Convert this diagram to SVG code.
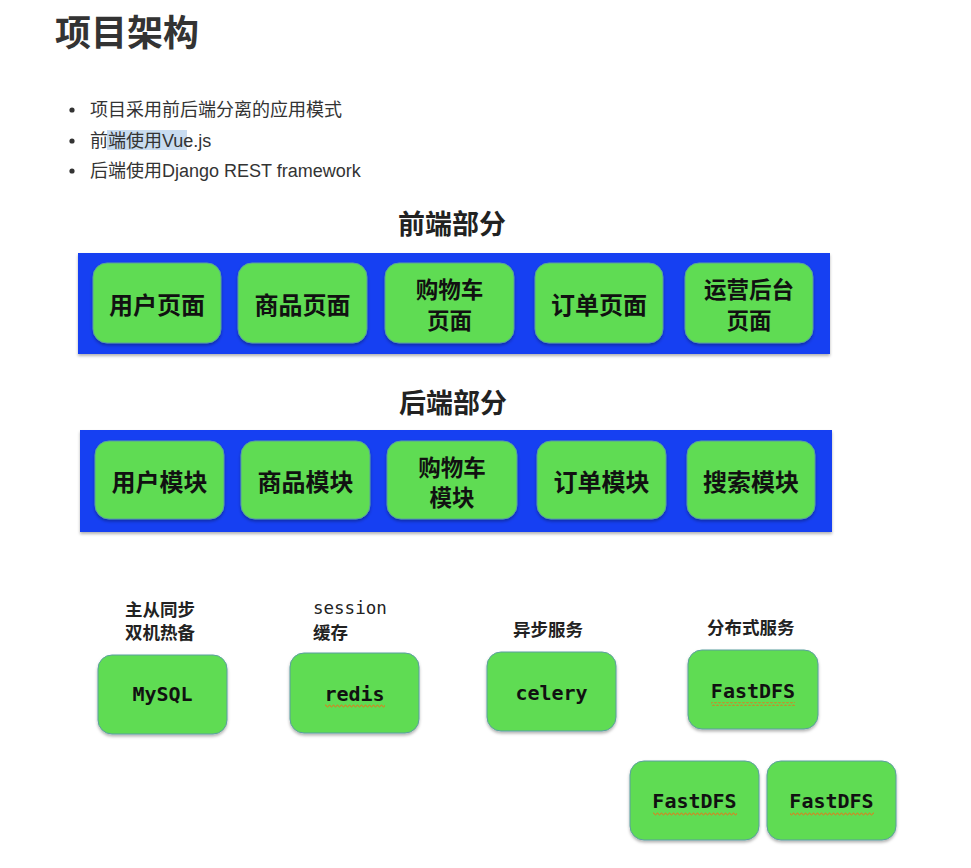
<svg xmlns="http://www.w3.org/2000/svg" width="971" height="868" viewBox="0 0 971 868">
<defs>
<filter id="sh" x="-10%" y="-10%" width="120%" height="130%">
<feDropShadow dx="0" dy="2" stdDeviation="1.5" flood-color="#000" flood-opacity="0.3"/>
</filter>
<pattern id="wave" width="4" height="4" patternUnits="userSpaceOnUse">
<path d="M0 3 L1 1 L2 1 L3 3 L4 3" fill="none" stroke="#e07a1c" stroke-width="0.9"/>
</pattern>
</defs>
<style>
.title{font-family:"Noto Sans CJK SC","Noto Sans",sans-serif;font-weight:bold;font-size:36px;fill:#333}
.bul{font-family:"Liberation Sans","Noto Sans CJK SC",sans-serif;font-size:18px;fill:#333}
.head{font-family:"Noto Sans CJK SC",sans-serif;font-weight:bold;font-size:27px;fill:#222;text-anchor:middle}
.band{fill:#1840f2;filter:url(#sh)}
.box{fill:#5fdc52;stroke:#5a9ea0;stroke-width:1;filter:url(#sh)}
.bt{font-family:"Noto Sans CJK SC",sans-serif;font-weight:bold;font-size:24px;fill:#111;text-anchor:middle}
.bt2{font-family:"Noto Sans CJK SC",sans-serif;font-weight:bold;font-size:22.5px;fill:#111;text-anchor:middle}
.lab{font-family:"Noto Sans CJK SC",sans-serif;font-weight:bold;font-size:17.5px;fill:#222}
.mono{font-family:"DejaVu Sans Mono","Noto Sans CJK SC",monospace;font-weight:bold;font-size:20px;fill:#111;text-anchor:middle}
.monol{font-family:"DejaVu Sans Mono",monospace;font-size:17.5px;fill:#222}
</style>
<rect width="971" height="868" fill="#fff"/>
<text class="title" x="55" y="46">项目架构</text>
<g id="bullets">
<circle cx="72" cy="110" r="2.6" fill="#333"/>
<circle cx="72" cy="141" r="2.6" fill="#333"/>
<circle cx="72" cy="171" r="2.6" fill="#333"/>
<rect x="107" y="130" width="80" height="20" fill="#c9dcf0"/>
<text class="bul" x="90" y="116">项目采用前后端分离的应用模式</text>
<text class="bul" x="90" y="147">前端使用Vue.js</text>
<text class="bul" x="90" y="177">后端使用Django REST framework</text>
</g>
<text class="head" x="452" y="234">前端部分</text>
<rect class="band" x="78" y="253" width="752" height="101"/>
<g id="fe-user"><rect class="box" x="93" y="263" width="128" height="80" rx="14"/><text class="bt" x="157" y="314">用户页面</text></g>
<g id="fe-goods"><rect class="box" x="238" y="263" width="129" height="80" rx="14"/><text class="bt" x="302.5" y="314">商品页面</text></g>
<g id="fe-cart"><rect class="box" x="385" y="263" width="129" height="80" rx="14"/><text class="bt2" x="449.5" y="298">购物车</text><text class="bt2" x="449.5" y="329">页面</text></g>
<g id="fe-order"><rect class="box" x="535" y="263" width="128" height="80" rx="14"/><text class="bt" x="599" y="314">订单页面</text></g>
<g id="fe-admin"><rect class="box" x="685" y="263" width="128" height="80" rx="14"/><text class="bt2" x="749" y="298">运营后台</text><text class="bt2" x="749" y="329">页面</text></g>
<text class="head" x="453" y="413">后端部分</text>
<rect class="band" x="80" y="430" width="752" height="102"/>
<g id="be-user"><rect class="box" x="95" y="441" width="129" height="78" rx="14"/><text class="bt" x="159.5" y="491">用户模块</text></g>
<g id="be-goods"><rect class="box" x="241" y="441" width="129" height="78" rx="14"/><text class="bt" x="305.5" y="491">商品模块</text></g>
<g id="be-cart"><rect class="box" x="387" y="441" width="130" height="78" rx="14"/><text class="bt2" x="452" y="476">购物车</text><text class="bt2" x="452" y="506">模块</text></g>
<g id="be-order"><rect class="box" x="537" y="441" width="129" height="78" rx="14"/><text class="bt" x="601.5" y="491">订单模块</text></g>
<g id="be-search"><rect class="box" x="687" y="441" width="128" height="78" rx="14"/><text class="bt" x="751" y="491">搜索模块</text></g>
<g id="mysql">
<text class="lab" x="125" y="616">主从同步</text><text class="lab" x="125" y="639">双机热备</text>
<rect class="box" x="98" y="655" width="129" height="79" rx="14"/>
<text class="mono" x="162.5" y="701">MySQL</text>
</g>
<g id="redis">
<text class="monol" x="313" y="614">session</text><text class="lab" x="313" y="639">缓存</text>
<rect class="box" x="290" y="653" width="129" height="80" rx="14"/>
<text class="mono" x="354.5" y="701">redis</text>
<rect x="325" y="704" width="60" height="4" fill="url(#wave)"/>
</g>
<g id="celery">
<text class="lab" x="513" y="636">异步服务</text>
<rect class="box" x="487" y="652" width="129" height="79" rx="14"/>
<text class="mono" x="551.5" y="700">celery</text>
</g>
<g id="fastdfs1">
<text class="lab" x="707" y="634">分布式服务</text>
<rect class="box" x="688" y="650" width="130" height="79" rx="14"/>
<text class="mono" x="753" y="698">FastDFS</text>
<rect x="711" y="702" width="84" height="4" fill="url(#wave)"/>
</g>
<g id="fastdfs2">
<rect class="box" x="630" y="761" width="129" height="79" rx="14"/>
<text class="mono" x="694.5" y="808">FastDFS</text>
<rect x="653" y="812" width="84" height="4" fill="url(#wave)"/>
</g>
<g id="fastdfs3">
<rect class="box" x="767" y="761" width="129" height="79" rx="14"/>
<text class="mono" x="831.5" y="808">FastDFS</text>
<rect x="790" y="812" width="84" height="4" fill="url(#wave)"/>
</g>
<g id="connectors"/>
</svg>
